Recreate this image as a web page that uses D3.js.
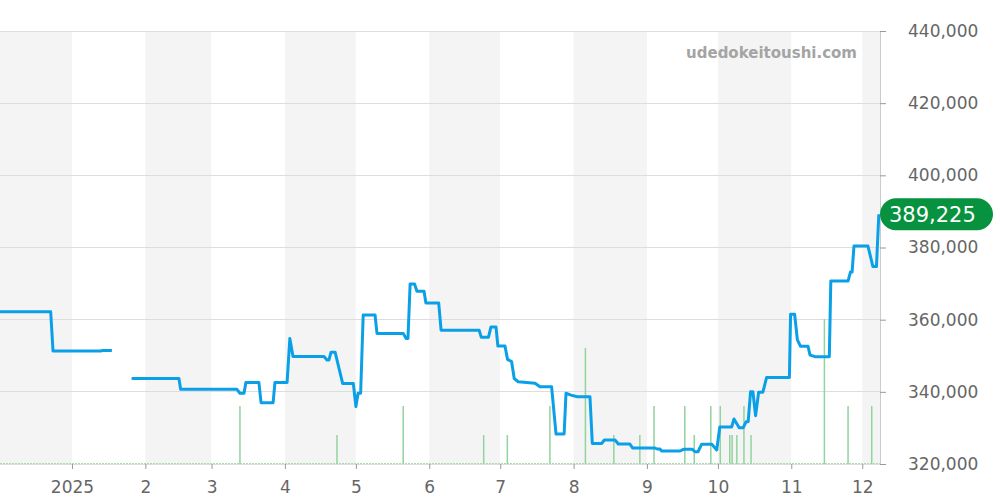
<!DOCTYPE html>
<html><head><meta charset="utf-8">
<script src="https://cdn.jsdelivr.net/npm/d3@7"></script>
<style>body{margin:0;background:#fff}svg{display:block;font-family:"DejaVu Sans",sans-serif}</style>
</head><body><svg id="c" width="1000" height="500"></svg>
<script>
// ---- data ----
const domainDates = ["2024-12-01 14", "2025-12-08 12"];
const priceDates = [
"2024-12-01 12","2024-12-23 00","2024-12-24 00","2025-01-13 00","2025-01-14 00","2025-01-17 21",
"2025-01-22 00",
"2025-01-26 05","2025-02-15 05","2025-02-15 22","2025-03-11 17","2025-03-13 00","2025-03-14 17",
"2025-03-15 12","2025-03-21 00","2025-03-21 22","2025-03-27 00","2025-03-27 19","2025-04-01 22",
"2025-04-03 02","2025-04-04 10","2025-04-17 12","2025-04-18 19","2025-04-19 14","2025-04-20 12",
"2025-04-22 05","2025-04-25 10","2025-04-29 22","2025-05-01 00","2025-05-01 22","2025-05-03 00",
"2025-05-04 02","2025-05-09 02","2025-05-09 22","2025-05-21 00","2025-05-22 05","2025-05-23 00",
"2025-05-23 22","2025-05-25 19","2025-05-26 19","2025-05-29 19","2025-05-30 14","2025-06-05 00",
"2025-06-06 00","2025-06-22 02","2025-06-23 00","2025-06-26 00","2025-06-27 02","2025-06-29 05",
"2025-06-30 00","2025-07-03 00","2025-07-04 02","2025-07-05 19","2025-07-06 22","2025-07-08 14",
"2025-07-15 17","2025-07-17 19","2025-07-22 17","2025-07-24 14","2025-07-28 00","2025-07-28 19",
"2025-07-30 22","2025-08-02 14","2025-08-07 22","2025-08-08 22","2025-08-12 22","2025-08-14 00",
"2025-08-18 12","2025-08-19 22","2025-08-24 19","2025-08-26 00","2025-09-04 10","2025-09-05 07",
"2025-09-06 12","2025-09-07 05","2025-09-15 00","2025-09-16 10","2025-09-20 05","2025-09-21 07",
"2025-09-22 14","2025-09-24 02","2025-09-28 10","2025-09-30 12","2025-10-01 19","2025-10-06 19",
"2025-10-07 19","2025-10-10 00","2025-10-11 17","2025-10-12 22","2025-10-13 19","2025-10-14 19",
"2025-10-15 19","2025-10-16 22","2025-10-18 05","2025-10-20 00","2025-10-21 14","2025-10-31 05",
"2025-10-31 17","2025-11-02 10","2025-11-03 14","2025-11-04 22","2025-11-08 02","2025-11-08 22",
"2025-11-11 00","2025-11-17 02","2025-11-17 17","2025-11-25 00","2025-11-26 00","2025-11-26 17",
"2025-11-27 12","2025-12-03 10","2025-12-05 12","2025-12-07 00","2025-12-08 00"];
const priceValues = [
362200,362200,351300,351300,351450,351450,
null,
343700,343700,340700,340700,339600,339600,
342600,342600,337000,337000,342600,342600,
354800,349800,349800,348800,348800,351000,
351000,342300,342300,335900,339600,339600,
361300,361300,356200,356200,354800,354800,
369900,369900,367900,367900,364600,364600,
357100,357100,355100,355100,358000,358000,
352700,352700,349000,348400,343700,342800,
342400,341400,341400,328300,328300,339600,
339100,338650,338650,325700,325700,326650,
326650,325540,325540,324430,324430,324150,
324150,323600,323600,324060,324060,323400,
323400,325450,325450,323900,330250,330250,
332470,330060,330060,331720,331720,340000,
340000,333400,339900,339900,344000,344000,
361500,361500,354400,352600,352600,350200,
349750,349750,370700,370700,373200,373200,
380400,380400,374700,374700,389225];
const lastPrice = 389225;
const volumeDates = ["2025-03-13","2025-04-23","2025-05-21","2025-06-24","2025-07-04","2025-07-22",
"2025-08-06","2025-08-18","2025-08-29","2025-09-04","2025-09-17","2025-09-21","2025-09-28",
"2025-10-02","2025-10-06","2025-10-07","2025-10-09","2025-10-12","2025-10-15","2025-11-15",
"2025-11-25","2025-12-05"];
const volumeValues = [2,1,2,1,1,2,4,1,1,2,2,1,2,2,1,1,1,2,1,5,2,2];
const priceTicks = [320000,340000,360000,380000,400000,420000,440000];
const watermark = "udedokeitoushi.com";

// ---- layout ----
const W = 1000, H = 500;
const plot = {left: 0, right: 880, top: 31, bottom: 464};
const parseH = d3.timeParse("%Y-%m-%d %H");
const parseD = d3.timeParse("%Y-%m-%d");
const svg = d3.select("#c");

const x = d3.scaleTime().domain(domainDates.map(parseH)).range([plot.left, plot.right]);
const y = d3.scaleLinear().domain([320000, 440000]).range([plot.bottom, plot.top]);
const yVol = d3.scaleLinear().domain([0, 5]).range([plot.bottom, plot.bottom - 145]);

// month bands
const [d0, d1] = x.domain();
const months = d3.timeMonth.range(d3.timeMonth.floor(d0), d1);
svg.append("g").selectAll("rect").data(months).join("rect")
  .attr("x", d => Math.max(plot.left, x(d)))
  .attr("width", d => Math.min(plot.right, x(d3.timeMonth.offset(d, 1))) - Math.max(plot.left, x(d)))
  .attr("y", plot.top).attr("height", plot.bottom - plot.top)
  .attr("fill", d => d.getMonth() % 2 === 1 ? "#f4f4f4" : "#ffffff");

// grid
svg.append("g").selectAll("line").data(priceTicks).join("line")
  .attr("x1", plot.left).attr("x2", plot.right)
  .attr("y1", d => y(d)).attr("y2", d => y(d))
  .attr("stroke", "#dddddd").attr("stroke-width", 1).attr("shape-rendering", "crispEdges");

// watermark
svg.append("text").attr("x", 857).attr("y", 58).attr("text-anchor", "end")
  .attr("font-size", 15).attr("font-weight", "bold").attr("fill", "#a4a4a4").text(watermark);

// volume baseline
svg.append("line").attr("x1", plot.left).attr("x2", plot.right)
  .attr("y1", yVol(0) - 0.5).attr("y2", yVol(0) - 0.5)
  .attr("stroke", "#a8dcb0").attr("stroke-width", 1).attr("stroke-dasharray", "2,1");

// volume bars
svg.append("g").selectAll("line").data(volumeDates.map((d, i) => ({d: parseD(d), v: volumeValues[i]}))).join("line")
  .attr("x1", d => x(d.d)).attr("x2", d => x(d.d))
  .attr("y1", yVol(0)).attr("y2", d => yVol(d.v))
  .attr("stroke", "#92d39e").attr("stroke-width", 1.5);

// price line
const pts = priceDates.map((d, i) => ({d: parseH(d), v: priceValues[i]}));
svg.append("defs").append("clipPath").attr("id", "clip").append("rect")
  .attr("x", plot.left).attr("y", 0).attr("width", plot.right - plot.left).attr("height", H);
svg.append("path").datum(pts)
  .attr("clip-path", "url(#clip)")
  .attr("fill", "none").attr("stroke", "#0aa0e8").attr("stroke-width", 3)
  .attr("stroke-linejoin", "round")
  .attr("d", d3.line().defined(d => d.v != null).x(d => x(d.d)).y(d => y(d.v)));

// right axis
const ay = svg.append("g").attr("transform", `translate(${plot.right},0)`)
  .call(d3.axisRight(y).tickValues(priceTicks).tickSize(6).tickSizeOuter(0).tickPadding(22)
    .tickFormat(d3.format(",")));
ay.select(".domain").attr("stroke", "#cccccc");
ay.selectAll(".tick line").attr("stroke", "#999999");
ay.selectAll("text").attr("font-size", 17).attr("fill", "#666666").attr("font-family", "DejaVu Sans");

// bottom axis
const monthTicks = d3.timeMonth.range(d3.timeMonth.ceil(d0), d1);
const ax = svg.append("g").attr("transform", `translate(0,${plot.bottom})`)
  .call(d3.axisBottom(x).tickValues(monthTicks).tickSize(5).tickPadding(12)
    .tickFormat(d => d.getMonth() === 0 ? String(d.getFullYear()) : String(d.getMonth() + 1)));
ax.select(".domain").remove();
ax.selectAll(".tick line").attr("stroke", "#999999");
ax.selectAll("text").attr("font-size", 17).attr("fill", "#666666").attr("font-family", "DejaVu Sans");

// last price label
const py = y(lastPrice);
svg.append("rect").attr("x", plot.right).attr("y", py - 16).attr("width", 113).attr("height", 32)
  .attr("rx", 16).attr("fill", "#07923f");
svg.append("text").attr("x", plot.right + 9).attr("y", py).attr("dy", "0.36em")
  .attr("font-size", 21).attr("fill", "#ffffff").text(d3.format(",")(lastPrice));
</script></body></html>
